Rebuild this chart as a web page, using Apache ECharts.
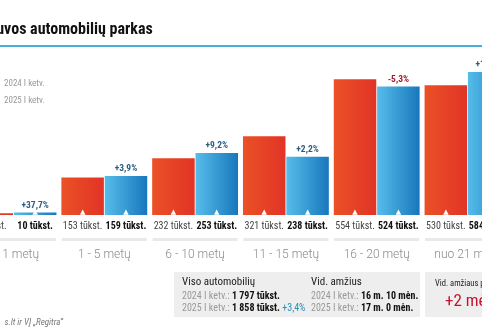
<!DOCTYPE html>
<html>
<head>
<meta charset="utf-8">
<script src="https://cdn.jsdelivr.net/npm/echarts@6/dist/echarts.min.js"></script>
<style>
  html, body { margin: 0; padding: 0; background: #fff; }
  #chart { width: 482px; height: 335px; }
</style>
</head>
<body>
<div id="chart"></div>
<script>
// Age groups of the car fleet
const categories = ['iki 1 metų', '1 - 5 metų', '6 - 10 metų', '11 - 15 metų', '16 - 20 metų', 'nuo 21 metų'];
// Cars registered, thousands
const values2024 = [7, 153, 232, 321, 554, 530];
const values2025 = [10, 159, 253, 238, 524, 584];
// Change 2025 vs 2024, percent
const changePct = [37.7, 3.9, 9.2, 2.2, -5.3, 10.2];
const seriesNames = ['2024 I ketv.', '2025 I ketv.'];

// Summary panel texts
const totalLabel = 'Viso automobilių';
const total2024 = '1 797 tūkst.';
const total2025 = '1 858 tūkst.';
const totalChange = '+3,4%';
const ageLabel = 'Vid. amžius';
const age2024 = '16 m. 10 mėn.';
const age2025 = '17 m. 0 mėn.';
const ageChangeLabel = 'Vid. amžiaus pokytis';
const ageChange = '+2 mėn.';

const NARROW = "'Roboto Condensed', 'Liberation Sans Narrow', Roboto, sans-serif";

const redFill = new echarts.graphic.LinearGradient(0, 0, 1, 0, [
  { offset: 0, color: '#eb5126' }, { offset: 1, color: '#e13426' }
]);
const blueFill = new echarts.graphic.LinearGradient(0, 0, 1, 0, [
  { offset: 0, color: '#56bdea' }, { offset: 1, color: '#1877bc' }
]);

const fmtPct = p => (p > 0 ? '+' : '') + p.toFixed(1).replace('.', ',') + '%';
const bottomLabel = (bold) => ({
  show: true,
  position: 'bottom',
  distance: -5,
  formatter: p => '{a|▲}\n{b|' + p.value + ' tūkst.}',
  rich: {
    a: { color: '#fff', fontSize: 7, lineHeight: 5, fontFamily: 'DejaVu Sans' },
    b: { color: bold ? '#111' : '#444', fontWeight: bold ? 'bold' : 'normal', fontSize: 10, lineHeight: 22, fontFamily: NARROW }
  }
});

// 2025 values with the change label coloured by sign
const changeData = values2025.map((v, i) => ({
  value: v,
  label: { color: changePct[i] < 0 ? '#9e1b2e' : '#2b5d80' }
}));

const chart = echarts.init(document.getElementById('chart'), null, { renderer: 'canvas' });

const barCommon = { barWidth: 42.5, barGap: '2%' };

chart.setOption({
  animation: false,
  title: {
    text: 'Lietuvos automobilių parkas',
    left: -33, top: 17,
    textStyle: { fontSize: 16, fontWeight: 'bold', color: '#111', fontFamily: NARROW }
  },
  legend: {
    data: seriesNames,
    orient: 'vertical',
    left: -1, top: 79,
    padding: 0,
    icon: 'none',
    itemWidth: 0, itemHeight: 8, itemGap: 8,
    textStyle: { color: '#999', fontSize: 9, fontFamily: NARROW }
  },
  grid: { left: -31.9, right: -30.9, top: 19, bottom: 120, outerBoundsMode: 'none', containLabel: false },
  xAxis: [
    {
      type: 'category', data: categories,
      axisLine: { show: false }, axisTick: { show: false },
      axisLabel: {
        interval: 0, margin: 23,
        formatter: v => '{s|}\n{t|' + v + '}',
        rich: {
          s: { width: 85, height: 3, lineHeight: 3, backgroundColor: '#e9e9e9' },
          t: { lineHeight: 28, color: '#8a8a8a', fontSize: 12, fontWeight: 300, fontFamily: 'Roboto' }
        }
      }
    },
    { type: 'category', data: categories, show: false }
  ],
  yAxis: { type: 'value', min: 0, max: 800, show: false, splitLine: { show: false } },
  series: [
    Object.assign({
      name: seriesNames[0], type: 'bar', data: values2024,
      itemStyle: { color: redFill },
      label: bottomLabel(false)
    }, barCommon),
    Object.assign({
      name: seriesNames[1], type: 'bar', data: values2025,
      itemStyle: { color: blueFill },
      label: bottomLabel(true)
    }, barCommon),
    // transparent twins carrying the change labels above the 2025 bars
    Object.assign({
      name: 'twin2024', type: 'bar', xAxisIndex: 1, data: values2024,
      itemStyle: { color: 'rgba(0,0,0,0)' }, silent: true
    }, barCommon),
    Object.assign({
      name: 'twin2025', type: 'bar', xAxisIndex: 1, data: changeData,
      itemStyle: { color: 'rgba(0,0,0,0)' }, silent: true,
      label: {
        show: true, position: 'top', distance: 2,
        formatter: p => fmtPct(changePct[p.dataIndex]),
        fontSize: 9.5, fontWeight: 'bold', fontFamily: NARROW
      }
    }, barCommon)
  ],
  graphic: [
    { type: 'rect', shape: { x: 0, y: 45, width: 482, height: 2 }, style: { fill: '#45afd8' } },
    { type: 'rect', shape: { x: 174, y: 272, width: 246, height: 45 }, style: { fill: '#eeeeee' } },
    { type: 'rect', shape: { x: 425, y: 272, width: 70, height: 45 }, style: { fill: '#eeeeee' } },
    { type: 'text', x: 182, y: 282, style: { text: totalLabel, fill: '#222', fontSize: 11, fontFamily: NARROW, verticalAlign: 'middle' } },
    { type: 'text', x: 182, y: 296, style: {
        text: '{g|2024 I ketv.: }{b|' + total2024 + '}', verticalAlign: 'middle',
        rich: { g: { fill: '#999', fontSize: 10, fontFamily: NARROW }, b: { fill: '#111', fontSize: 10, fontWeight: 'bold', fontFamily: NARROW } } } },
    { type: 'text', x: 182, y: 308, style: {
        text: '{g|2025 I ketv.: }{b|' + total2025 + '}{p| ' + totalChange + '}', verticalAlign: 'middle',
        rich: { g: { fill: '#999', fontSize: 10, fontFamily: NARROW }, b: { fill: '#111', fontSize: 10, fontWeight: 'bold', fontFamily: NARROW }, p: { fill: '#2a8db8', fontSize: 10, fontFamily: NARROW } } } },
    { type: 'text', x: 311, y: 282, style: { text: ageLabel, fill: '#222', fontSize: 11, fontFamily: NARROW, verticalAlign: 'middle' } },
    { type: 'text', x: 311, y: 296, style: {
        text: '{g|2024 I ketv.: }{b|' + age2024 + '}', verticalAlign: 'middle',
        rich: { g: { fill: '#999', fontSize: 10, fontFamily: NARROW }, b: { fill: '#111', fontSize: 10, fontWeight: 'bold', fontFamily: NARROW } } } },
    { type: 'text', x: 311, y: 308, style: {
        text: '{g|2025 I ketv.: }{b|' + age2025 + '}', verticalAlign: 'middle',
        rich: { g: { fill: '#999', fontSize: 10, fontFamily: NARROW }, b: { fill: '#111', fontSize: 10, fontWeight: 'bold', fontFamily: NARROW } } } },
    { type: 'text', x: 435, y: 284, style: { text: ageChangeLabel, fill: '#222', fontSize: 8.5, fontFamily: NARROW, verticalAlign: 'middle' } },
    { type: 'text', x: 445, y: 302, style: { text: ageChange, fill: '#c4122f', fontSize: 17, fontFamily: NARROW, verticalAlign: 'middle' } },
    { type: 'text', x: 63, y: 323, style: { text: 's.lt ir VĮ „Regitra“', fill: '#777', fontSize: 9, fontStyle: 'italic', fontFamily: NARROW, align: 'right', verticalAlign: 'middle' } }
  ]
});
</script>
</body>
</html>
